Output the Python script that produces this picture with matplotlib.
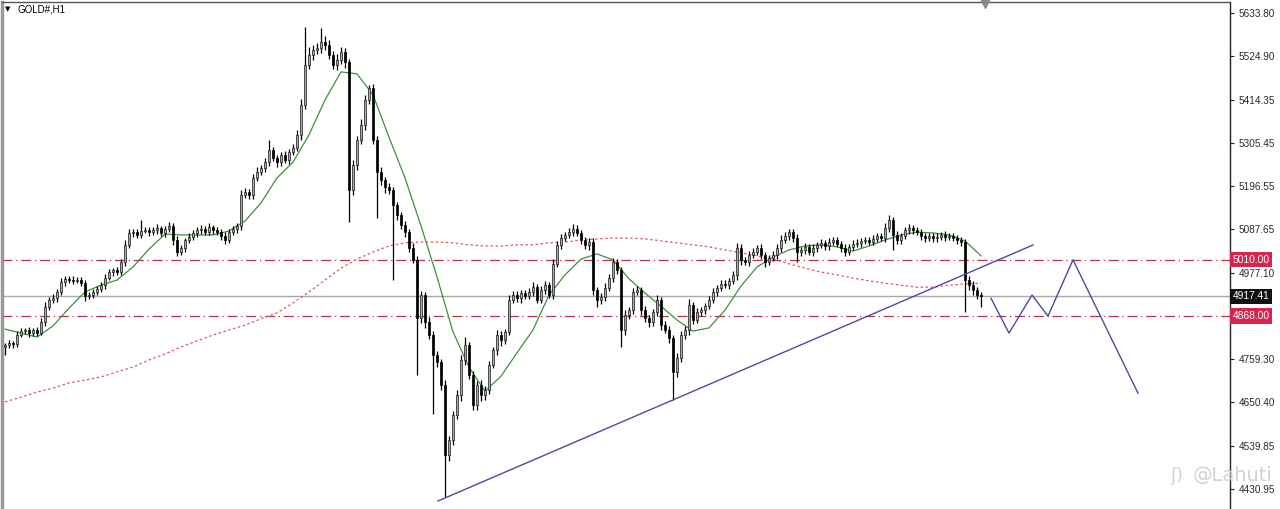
import matplotlib
matplotlib.use("Agg")
import matplotlib.pyplot as plt
import numpy as np

# ---------------- data ----------------
symbol = "GOLD#,H1"
watermark = "@Lahuti"

first_open = 4790
closes = [
    4795, 4800, 4797, 4820, 4830, 4833, 4825, 4833, 4825, 4853, 4891, 4909, 4914, 4929, 4954, 4962, 4959, 4957, 4959, 4952,
    4919, 4922, 4929, 4936, 4947, 4964, 4979, 4984, 4979, 5005, 5048, 5078, 5080, 5073, 5083, 5085, 5080, 5085, 5090, 5078,
    5088, 5096, 5060, 5030, 5040, 5060, 5068, 5078, 5085, 5088, 5080, 5093, 5085, 5080, 5070, 5060, 5080, 5088, 5096, 5174,
    5181, 5174, 5217, 5232, 5242, 5257, 5288, 5267, 5257, 5275, 5262, 5283, 5293, 5325, 5401, 5502, 5528, 5540, 5545, 5560,
    5553, 5528, 5502, 5515, 5535, 5510, 5186, 5250, 5313, 5351, 5414, 5444, 5313, 5232, 5212, 5194, 5186, 5148, 5123, 5098,
    5080, 5040, 5010, 4863, 4922, 4853, 4820, 4770, 4752, 4694, 4517, 4555, 4618, 4668, 4757, 4795, 4719, 4643, 4694, 4668,
    4681, 4745, 4782, 4820, 4807, 4828, 4909, 4922, 4914, 4926, 4919, 4929, 4942, 4909, 4934, 4947, 4922, 5000, 5048, 5066,
    5073, 5080, 5088, 5078, 5060, 5048, 5055, 4934, 4909, 4916, 4939, 4964, 5005, 4984, 4833, 4871, 4883, 4929, 4934, 4883,
    4863, 4853, 4878, 4909, 4845, 4833, 4813, 4727, 4762, 4820, 4833, 4896, 4858, 4878, 4883, 4893, 4909, 4929, 4939, 4949,
    4947, 4957, 4972, 5040, 5010, 5005, 5022, 5030, 5040, 5022, 5005, 5015, 5022, 5040, 5060, 5070, 5080, 5065, 5030, 5035,
    5043, 5030, 5040, 5048, 5053, 5045, 5055, 5060, 5050, 5040, 5030, 5043, 5050, 5053, 5058, 5060, 5055, 5063, 5070, 5065,
    5090, 5111, 5073, 5060, 5070, 5085, 5090, 5085, 5080, 5070, 5065, 5070, 5065, 5068, 5073, 5068, 5070, 5065, 5060, 5055,
    4959, 4947, 4934, 4922, 4917.41,
]
upper_wick = [
    6, 8, 5, 9, 7, 6, 8, 5, 7, 10, 12, 8, 9, 7, 10, 8, 6, 9, 7, 8,
    6, 8, 7, 9, 8, 10, 7, 6, 9, 8, 12, 10, 8, 7, 28, 9, 7, 8, 10, 6,
    8, 9, 7, 10, 8, 6, 9, 8, 7, 10, 8, 9, 6, 7, 8, 10, 9, 8, 7, 12,
    10, 8, 9, 12, 7, 10, 25, 8, 9, 7, 10, 8, 9, 12, 15, 96, 20, 14, 12, 36,
    15, 12, 10, 14, 12, 10, 8, 12, 10, 14, 12, 8, 10, 9, 12, 8, 10, 7, 9, 8,
    10, 8, 12, 9, 10, 8, 12, 9, 10, 8, 12, 10, 9, 14, 12, 20, 8, 10, 9, 12,
    10, 9, 8, 12, 10, 8, 12, 9, 10, 8, 7, 9, 12, 8, 10, 9, 8, 12, 10, 9,
    8, 10, 12, 9, 8, 7, 10, 9, 8, 10, 12, 9, 10, 8, 9, 12, 8, 10, 9, 8,
    10, 8, 9, 12, 8, 10, 9, 8, 12, 10, 9, 14, 8, 10, 9, 8, 10, 9, 8, 10,
    9, 8, 10, 12, 9, 8, 10, 9, 8, 10, 9, 8, 10, 9, 12, 10, 8, 9, 10, 8,
    9, 8, 10, 7, 9, 8, 10, 9, 8, 7, 9, 8, 10, 9, 8, 7, 9, 10, 8, 9,
    12, 12, 8, 10, 9, 8, 10, 9, 8, 7, 9, 8, 7, 9, 8, 10, 9, 8, 7, 9,
    8, 10, 9, 8, 7,
]
lower_wick = [
    21, 8, 9, 7, 6, 8, 9, 7, 8, 6, 9, 8, 7, 10, 8, 9, 7, 8, 6, 9,
    13, 8, 9, 7, 8, 10, 6, 9, 8, 7, 10, 8, 9, 7, 8, 6, 9, 8, 10, 7,
    9, 8, 12, 10, 8, 9, 7, 8, 10, 9, 8, 7, 9, 8, 10, 9, 8, 7, 9, 10,
    8, 9, 10, 8, 7, 9, 10, 8, 12, 9, 8, 10, 9, 8, 12, 10, 9, 14, 10, 12,
    12, 10, 9, 12, 10, 14, 80, 12, 14, 10, 12, 9, 10, 116, 12, 15, 10, 190, 12, 10,
    12, 10, 9, 144, 12, 15, 10, 150, 14, 12, 107, 15, 12, 10, 14, 12, 10, 13, 12, 14,
    12, 10, 9, 12, 14, 10, 9, 8, 10, 12, 9, 8, 10, 8, 9, 10, 8, 12, 9, 10,
    8, 9, 10, 8, 9, 10, 12, 14, 18, 10, 9, 8, 10, 9, 44, 12, 10, 9, 8, 12,
    10, 12, 9, 10, 12, 8, 14, 71, 12, 10, 9, 12, 10, 8, 9, 10, 8, 9, 10, 8,
    9, 10, 8, 12, 14, 9, 10, 8, 9, 10, 12, 9, 8, 10, 9, 8, 10, 9, 25, 10,
    9, 8, 10, 9, 8, 10, 9, 8, 7, 9, 10, 8, 9, 8, 10, 9, 8, 7, 9, 8,
    10, 9, 38, 10, 9, 8, 10, 9, 8, 10, 9, 8, 10, 9, 8, 10, 9, 8, 9, 10,
    81, 14, 12, 10, 27,
]

# moving averages, one value every 4 bars
ma_step = 4
ma_fast = [4835, 4825, 4815, 4843, 4888, 4929, 4946, 4959, 4992, 5037, 5075, 5073, 5073, 5073, 5083, 5108,
           5154, 5217, 5257, 5326, 5414, 5485, 5480, 5427, 5320, 5217, 5096, 4967, 4828, 4739, 4678, 4716,
           4775, 4833, 4921, 4972, 5012, 5025, 5010, 4962, 4926, 4893, 4858, 4830, 4838, 4883, 4944, 4992,
           5017, 5035, 5045, 5048, 5043, 5032, 5045, 5060, 5073, 5080, 5078, 5073, 5058, 5020]
ma_slow = [4651, 4663, 4676, 4686, 4699, 4706, 4714, 4727, 4739, 4757, 4772, 4790, 4805, 4820, 4833, 4845,
           4861, 4876, 4901, 4929, 4959, 4989, 5012, 5030, 5045, 5053, 5055, 5055, 5053, 5048, 5045, 5045,
           5048, 5048, 5053, 5055, 5060, 5063, 5065, 5065, 5063, 5058, 5053, 5048, 5043, 5035, 5028, 5020,
           5012, 5000, 4989, 4979, 4972, 4964, 4957, 4951, 4946, 4941, 4941, 4946, 4949, 4951]

# drawn objects
trend_idx = [108.25, 257.0]
trend_price = [4400.6, 5047.5]
path_idx = [246.5, 251.0, 256.75, 260.75, 267.0, 283.25]
path_price = [4913, 4825, 4921, 4868, 5010, 4673]
level_hi = 5010.00
level_lo = 4868.00
last_price = 4917.41
tick_values = [5633.80, 5524.90, 5414.35, 5305.45, 5196.55, 5087.65, 4977.10,
               4759.30, 4650.40, 4539.85, 4430.95]

# ---------------- figure ----------------
W, H = 1280, 509
fig = plt.figure(figsize=(W / 100, H / 100), dpi=100)
fig.patch.set_facecolor("white")
ax = fig.add_axes([2 / W, 0, 1228 / W, 507 / H])
ax.set_xlim(-0.75, 306.25)
ax.set_ylim(4380.4, 5661.6)

n = len(closes)
idx = np.arange(n)
c = np.array(closes, dtype=float)
o = np.concatenate([[first_open], c[:-1]])
hi = np.maximum(o, c) + np.array(upper_wick)
lo = np.minimum(o, c) - np.array(lower_wick)

# levels
ax.axhline(level_hi, color="#b8324f", lw=0.9, ls=(0, (8, 3, 1, 3)), zorder=1)
ax.axhline(level_lo, color="#b8324f", lw=0.9, ls=(0, (8, 3, 1, 3)), zorder=1)
ax.axhline(last_price, color="#a8a8a8", lw=1.0, zorder=1)

# moving averages
ma_idx = np.arange(len(ma_fast)) * ma_step
ax.plot(ma_idx, ma_fast, color="#3f8f3f", lw=0.9, zorder=2, solid_joinstyle="round")
ma_idx2 = np.arange(len(ma_slow)) * ma_step
ax.plot(ma_idx2, ma_slow, color="#e05a5a", lw=0.9, ls=(0, (2, 2)), zorder=2)

# candles
ax.vlines(idx, lo, hi, color="black", lw=0.9, zorder=3)
bull = c >= o
bottoms = np.minimum(o, c)
heights = np.maximum(np.abs(c - o), 1.5)
ax.bar(idx[bull], heights[bull], bottom=bottoms[bull], width=0.72,
       color="#aaaaaa", edgecolor="#1a1a1a", linewidth=0.5, zorder=4)
ax.bar(idx[~bull], heights[~bull], bottom=bottoms[~bull], width=0.72,
       color="black", edgecolor="black", linewidth=0.5, zorder=4)

# trend line and projection path
ax.plot(trend_idx, trend_price, color="#4b4ba6", lw=1.0, zorder=5)
ax.plot(path_idx, path_price, color="#4b4ba6", lw=1.0, zorder=5)

# axes styling
ax.spines["bottom"].set_visible(False)
ax.spines["left"].set_color("#9a9a9a")
ax.spines["left"].set_linewidth(2.5)
ax.spines["top"].set_color("#555555")
ax.spines["top"].set_linewidth(1.0)
ax.spines["right"].set_color("#222222")
ax.spines["right"].set_linewidth(1.0)
ax.set_xticks([])
ax.yaxis.tick_right()
ax.set_yticks(tick_values)
ax.set_yticklabels([f"{v:.2f}" for v in tick_values])
ax.tick_params(axis="y", direction="out", length=3, width=0.8, pad=3,
               labelsize=7.2, labelcolor="#2a2a2a", color="#222222")
for t in ax.get_yticklabels():
    t.set_family("Liberation Sans")

tr = ax.get_yaxis_transform()
for val, fc in [(level_hi, "#d9244d"), (level_lo, "#d9244d"), (last_price, "#111111")]:
    ax.text(1.0022, val, f"{val:.2f}", transform=tr, ha="left", va="center",
            fontsize=7.4, family="Liberation Sans", color="white", clip_on=False,
            bbox=dict(boxstyle="square,pad=0.25", fc=fc, ec="none"))

# header text
fig.text(5 / W, 1 - 9 / H, "▼", fontsize=5, color="black", va="center", ha="left", family="DejaVu Sans")
fig.text(17 / W, 1 - 9 / H, symbol, fontsize=7, color="black", va="center", ha="left", family="Liberation Sans")

# small shift marker at top
fig.lines.append(plt.Line2D([985 / W], [1 - 4 / H], marker="v", markersize=6, color="#8a8a8a",
                            transform=fig.transFigure, linestyle="none"))

# watermark
fig.text(1170 / W, 1 - 476 / H, "ʃ)", fontsize=13, color="#d2d2d2", va="center", ha="left", family="DejaVu Sans")
fig.text(1193 / W, 1 - 476 / H, watermark, fontsize=14, color="#d2d2d2", va="center", ha="left", family="DejaVu Sans")

fig.savefig("out.png", dpi=100, facecolor="white")
